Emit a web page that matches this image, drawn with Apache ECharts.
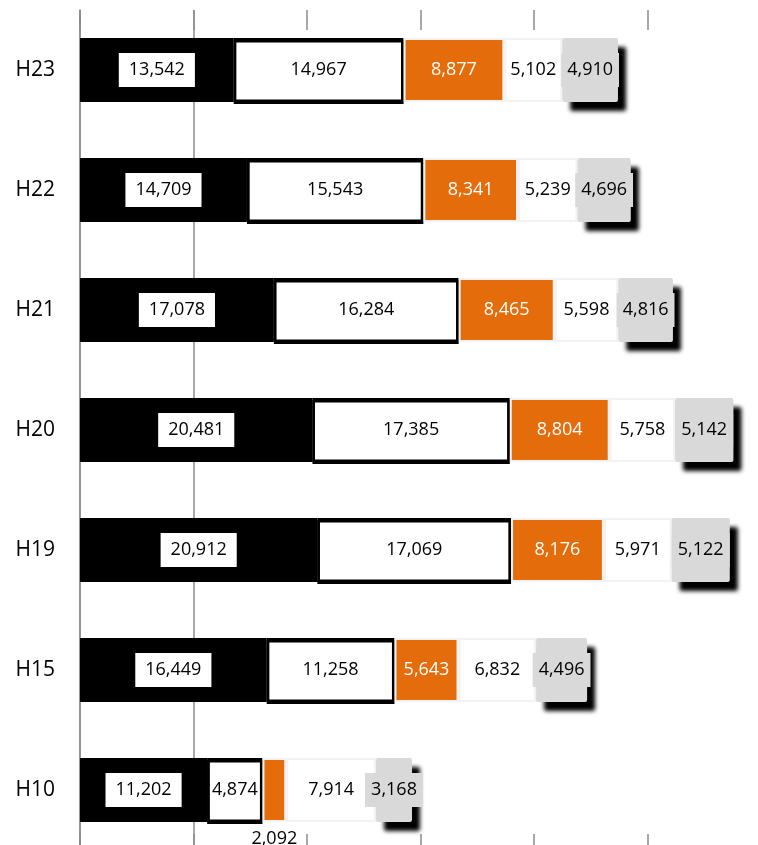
<!DOCTYPE html>
<html>
<head>
<meta charset="utf-8">
<script src="https://cdn.jsdelivr.net/npm/echarts@6/dist/echarts.min.js"></script>
<style>
  html, body { margin: 0; padding: 0; background: #fff; }
  #chart { width: 758px; height: 845px; }
</style>
</head>
<body>
<div id="chart"></div>
<script>
// categories bottom -> top
var years = ['H10', 'H15', 'H19', 'H20', 'H21', 'H22', 'H23'];
var part1 = [11202, 16449, 20912, 20481, 17078, 14709, 13542];
var part2 = [4874, 11258, 17069, 17385, 16284, 15543, 14967];
var part3 = [2092, 5643, 8176, 8804, 8465, 8341, 8877];
var part4 = [7914, 6832, 5971, 5758, 5598, 5239, 5102];
var part5 = [3168, 4496, 5122, 5142, 4816, 4696, 4910];

var FONT = 'Open Sans';

function fmt(p) {
    return Number(p.value).toLocaleString('en-US');
}

var chart = echarts.init(document.getElementById('chart'));

var option = {
    backgroundColor: '#fff',
    animation: false,
    grid: {
        left: 80,
        top: 10,
        width: 681,
        height: 840,
        outerBoundsMode: 'none'
    },
    xAxis: [
        {
            type: 'value',
            min: 0,
            max: 60000,
            interval: 10000,
            position: 'bottom',
            axisLabel: { show: false },
            axisLine: { show: false },
            axisTick: { show: true, inside: true, length: 16, lineStyle: { color: '#8c8c8c', width: 1.5 } },
            splitLine: {
                show: true,
                lineStyle: {
                    color: ['#8c8c8c', '#8c8c8c', 'rgba(0,0,0,0)', 'rgba(0,0,0,0)', 'rgba(0,0,0,0)', 'rgba(0,0,0,0)', 'rgba(0,0,0,0)'],
                    width: 1.5
                }
            }
        },
        {
            type: 'value',
            min: 0,
            max: 60000,
            interval: 10000,
            position: 'top',
            axisLabel: { show: false },
            axisLine: { show: false },
            axisTick: { show: true, inside: true, length: 20, lineStyle: { color: '#8c8c8c', width: 1.5 } },
            splitLine: { show: false }
        }
    ],
    yAxis: {
        type: 'category',
        data: years,
        axisTick: { show: false },
        axisLine: { show: true, lineStyle: { color: '#8c8c8c', width: 1.5 } },
        axisLabel: { color: '#000', fontSize: 21, fontFamily: FONT, margin: 25 }
    },
    series: [
        {
            name: 'part1',
            type: 'bar',
            stack: 'total',
            barWidth: 64,
            data: part1,
            itemStyle: { color: '#000' },
            label: {
                show: true,
                position: 'inside',
                formatter: fmt,
                color: '#000',
                backgroundColor: '#fff',
                padding: [8, 10],
                fontSize: 18,
                fontFamily: FONT
            }
        },
        {
            name: 'part2',
            type: 'bar',
            stack: 'total',
            data: part2,
            itemStyle: {
                color: '#fff',
                borderColor: '#000',
                borderWidth: 2.5,
                shadowColor: '#000',
                shadowOffsetY: 2
            },
            label: {
                show: true,
                position: 'inside',
                formatter: fmt,
                color: '#000',
                fontSize: 18,
                fontFamily: FONT
            }
        },
        {
            name: 'part3',
            type: 'bar',
            stack: 'total',
            data: part3.map(function (v) {
                // too narrow for an inside label: Excel pushed it below the bar
                if (v < 3000) {
                    return { value: v, label: { position: 'bottom', color: '#000', distance: 8 } };
                }
                return v;
            }),
            itemStyle: {
                color: '#E46C0A',
                borderColor: '#f2f2f2',
                borderWidth: 2
            },
            label: {
                show: true,
                position: 'inside',
                formatter: fmt,
                color: '#fff',
                fontSize: 18,
                fontFamily: FONT
            }
        },
        {
            name: 'part4',
            type: 'bar',
            stack: 'total',
            data: part4,
            itemStyle: {
                color: '#fff',
                borderColor: '#f2f2f2',
                borderWidth: 2
            },
            label: {
                show: true,
                position: 'inside',
                formatter: fmt,
                color: '#000',
                fontSize: 18,
                fontFamily: FONT
            }
        },
        {
            name: 'part5',
            type: 'bar',
            stack: 'total',
            data: part5,
            itemStyle: {
                color: '#D9D9D9',
                borderRadius: 2,
                shadowColor: '#000',
                shadowBlur: 4,
                shadowOffsetX: 8,
                shadowOffsetY: 9
            },
            label: {
                show: true,
                position: 'inside',
                formatter: fmt,
                color: '#000',
                backgroundColor: '#D9D9D9',
                padding: [8, 6],
                fontSize: 18,
                fontFamily: FONT
            }
        }
    ]
};

chart.setOption(option);
window.addEventListener('resize', function () {
    chart.resize();
});
</script>
</body>
</html>
